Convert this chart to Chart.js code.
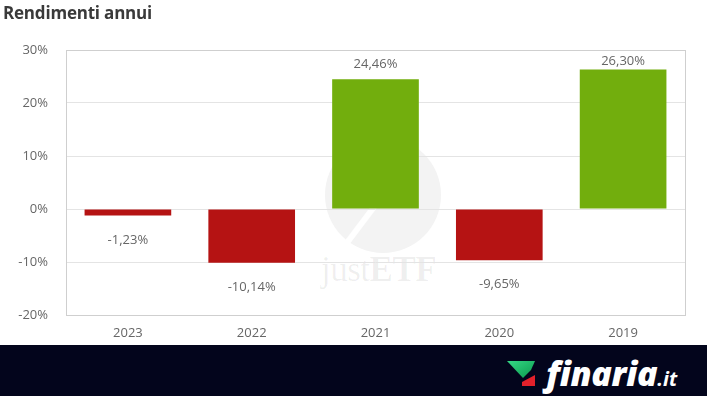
<!DOCTYPE html>
<html>
<head>
<meta charset="utf-8">
<script src="https://cdn.jsdelivr.net/npm/chart.js@4.4.1/dist/chart.umd.min.js"></script>
<style>
  html, body { margin: 0; padding: 0; background: #fff; }
  #wrap { position: relative; width: 707px; height: 396px; overflow: hidden; font-family: "Open Sans", sans-serif; }
  #title { position: absolute; left: 3px; top: 1px; font-size: 17px; font-weight: 700; color: #3a3a3a; letter-spacing: -0.2px; }
  #wmPie { position: absolute; left: 0; top: 0; }
  #wm { position: absolute; left: 321px; top: 250px; font-family: "Liberation Serif", serif; font-size: 35px; color: rgba(0,0,0,0.065); letter-spacing: -0.5px; }
  #wm b { font-weight: 700; }
  #chartBox { position: absolute; left: 0; top: 0; width: 707px; height: 345px; }
  #banner { position: absolute; left: 0; top: 345px; width: 707px; height: 51px; background: #03051c; }
  #logoText { position: absolute; left: 546px; top: 5px; color: #fff; font-family: "Open Sans", sans-serif; font-weight: 800; font-style: italic; font-size: 34px; letter-spacing: -0.3px; line-height: normal; }
  #logoText span { font-size: 20px; font-weight: 700; letter-spacing: 0; }
  #logoIcon { position: absolute; left: 507px; top: 16px; }
</style>
</head>
<body>
<div id="wrap">
  <svg id="wmPie" width="707" height="345">
    <circle cx="383" cy="195" r="58" fill="#f3f3f3"/>
    <line x1="383" y1="195" x2="340" y2="252" stroke="#ffffff" stroke-width="6"/>
  </svg>
  <div id="wm">just<b>ETF</b></div>
  <div id="chartBox"><canvas id="c" width="707" height="345"></canvas></div>
  <div id="title">Rendimenti annui</div>
  <div id="banner">
    <svg id="logoIcon" width="30" height="27" viewBox="0 0 30 27">
      <defs>
        <linearGradient id="g1" x1="0" y1="0" x2="1" y2="1">
          <stop offset="0" stop-color="#35d885"/>
          <stop offset="1" stop-color="#0b9a4e"/>
        </linearGradient>
      </defs>
      <polygon points="0,0 28,0 24,9 16,17" fill="url(#g1)"/>
      <polygon points="15,21 28,14 28,25 15,25" fill="#e3212b"/>
    </svg>
    <div id="logoText">finaria<span>.it</span></div>
  </div>
</div>
<script>
const categories = ["2023", "2022", "2021", "2020", "2019"];
const returnsPct = [-1.23, -10.14, 24.46, -9.65, 26.30];
const yTicks = [-20, -10, 0, 10, 20, 30];

const colorPos = "#72ae0d";
const colorNeg = "#b51313";

function fmt(v) {
  return v.toFixed(2).replace(".", ",") + "%";
}

const framePlugin = {
  id: "frame",
  afterDraw(chart) {
    const { ctx, chartArea: a } = chart;
    ctx.save();
    ctx.strokeStyle = "#cfcfcf";
    ctx.lineWidth = 1;
    ctx.strokeRect(Math.round(a.left) + 0.5, Math.round(a.top) + 0.5, Math.round(a.right - a.left), Math.round(a.bottom - a.top));
    ctx.restore();
  }
};

const labelPlugin = {
  id: "valueLabels",
  afterDatasetsDraw(chart) {
    const { ctx, chartArea } = chart;
    const meta = chart.getDatasetMeta(0);
    ctx.save();
    ctx.font = "13px 'Open Sans', sans-serif";
    ctx.fillStyle = "#666";
    ctx.textAlign = "center";
    ctx.textBaseline = "alphabetic";
    meta.data.forEach((bar, i) => {
      const v = returnsPct[i];
      if (v >= 0) {
        const y = Math.max(bar.y - 11, chartArea.top + 15);
        ctx.fillText(fmt(v), bar.x, y);
      } else {
        ctx.fillText(fmt(v), bar.x, bar.y + 28);
      }
    });
    ctx.restore();
  }
};

new Chart(document.getElementById("c"), {
  type: "bar",
  data: {
    labels: categories,
    datasets: [{
      data: returnsPct,
      backgroundColor: returnsPct.map(v => v >= 0 ? colorPos : colorNeg),
      borderWidth: 0,
      categoryPercentage: 0.7,
      barPercentage: 1.0
    }]
  },
  options: {
    responsive: false,
    animation: false,
    layout: { padding: { top: 50, right: 22, left: 0, bottom: 0 } },
    plugins: { legend: { display: false }, tooltip: { enabled: false } },
    scales: {
      x: {
        grid: { display: false, drawTicks: false },
        border: { display: false },
        ticks: { color: "#666", font: { family: "'Open Sans', sans-serif", size: 13 }, padding: 10 },
        afterFit(s) { s.height = 30; }
      },
      y: {
        min: -20, max: 30,
        afterBuildTicks(s) { s.ticks = yTicks.map(v => ({ value: v })); },
        grid: { color: "#e4e4e4", drawTicks: false },
        border: { display: false },
        ticks: {
          color: "#666",
          font: { family: "'Open Sans', sans-serif", size: 13 },
          padding: 18,
          callback: v => v + "%"
        },
        afterFit(s) { s.width = 66; }
      }
    }
  },
  plugins: [framePlugin, labelPlugin]
});
</script>
</body>
</html>
